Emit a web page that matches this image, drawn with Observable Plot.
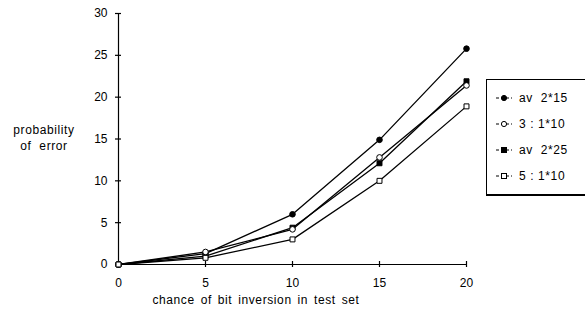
<!DOCTYPE html>
<html><head><meta charset="utf-8">
<script src="https://cdn.jsdelivr.net/npm/d3@7"></script>
<script src="https://cdn.jsdelivr.net/npm/@observablehq/plot@0.6"></script>
<style>
html,body{margin:0;padding:0;background:#fff;overflow:hidden;}
#wrap{position:relative;width:585px;height:312px;font-family:"Liberation Sans",Arial,sans-serif;}
#legend{position:absolute;left:486px;top:79px;width:110px;height:114px;border:1px solid #000;box-shadow:0 1px 0 #000;background:#fff;font-size:12px;letter-spacing:0.6px;}
.row{position:absolute;left:8px;height:14px;display:flex;align-items:center;}
.row svg{margin-right:6px;}
</style>
</head><body>
<div id="wrap"></div>
<script>
const xs = [0, 5, 10, 15, 20];
const av215 = [0, 1.3, 6.0, 14.9, 25.8];
const s3_110 = [0, 1.5, 4.2, 12.8, 21.4];
const av225 = [0, 1.0, 4.4, 12.1, 21.9];
const s5_110 = [0, 0.8, 3.0, 10.0, 18.9];
const seriesNames = ["av  2*15", "3 : 1*10", "av  2*25", "5 : 1*10"];
const seriesSymbols = ["circle", "circle", "square", "square"];
const seriesFilled = [true, false, true, false];
const xTicks = [0, 5, 10, 15, 20];
const yTicks = [0, 5, 10, 15, 20, 25, 30];
const xLabel = "chance of bit inversion in test set";
const yLabel = ["probability", "of  error"];

const allSeries = [av215, s3_110, av225, s5_110];
const data = [];
allSeries.forEach((vals, i) => vals.forEach((v, j) => data.push({x: xs[j], y: v, s: seriesNames[i], k: i})));
const drawOrder = [0, 2, 1, 3];

const marks = [
  Plot.ruleY([0], {stroke: "#000", strokeWidth: 1.2}),
  Plot.ruleX([0], {stroke: "#000", strokeWidth: 1.2}),
  Plot.ruleX(xTicks.slice(1), {x: d => d, y1: 0, y2: 0, insetTop: -3, insetBottom: -3, stroke: "#000", strokeWidth: 1.2}),
  Plot.ruleY(yTicks.slice(1), {y: d => d, x1: 0, x2: 0, insetLeft: -3, insetRight: -3, stroke: "#000", strokeWidth: 1.2}),
  Plot.axisX({ticks: xTicks, tickSize: 0, tickPadding: 14, fontSize: 12, fill: "#000", label: null}),
  Plot.axisY({ticks: yTicks, tickSize: 0, tickPadding: 11, fontSize: 12, fill: "#000", label: null}),
  Plot.line(data, {x: "x", y: "y", z: "s", stroke: "#000", strokeWidth: 1.3})
];
drawOrder.forEach(i => {
  const d = data.filter(r => r.k === i);
  if (seriesSymbols[i] === "circle") {
    marks.push(Plot.dot(d, {x: "x", y: "y", r: 2.8, fill: seriesFilled[i] ? "#000" : "#fff", stroke: "#000", strokeWidth: 1}));
  } else {
    marks.push(Plot.dot(d, {x: "x", y: "y", symbol: "square", r: 2.8, fill: seriesFilled[i] ? "#000" : "#fff", stroke: "#000", strokeWidth: 1}));
  }
});

const chart = Plot.plot({
  width: 585, height: 312,
  marginLeft: 118, marginRight: 119, marginTop: 13, marginBottom: 48,
  x: {domain: [0, 20]},
  y: {domain: [0, 30]},
  style: {fontFamily: "'Liberation Sans', Arial, sans-serif", fontSize: "12px", background: "#fff", color: "#000", overflow: "visible"},
  marks
});
const wrap = document.getElementById("wrap");
wrap.appendChild(chart);

const svg = d3.select(chart);
svg.append("text").attr("x", 256).attr("y", 304).attr("text-anchor", "middle")
  .attr("font-size", 12).attr("letter-spacing", "0.6px").attr("word-spacing", "2px").attr("fill", "#000").text(xLabel);
yLabel.forEach((t, i) => svg.append("text").attr("x", 44).attr("y", 134 + i * 16).attr("text-anchor", "middle")
  .attr("font-size", 12).attr("letter-spacing", "0.6px").attr("fill", "#000").text(t));

const leg = document.createElement("div");
leg.id = "legend";
seriesNames.forEach((n, i) => {
  const row = document.createElement("div");
  row.className = "row";
  row.style.top = (11 + i * 26) + "px";
  const ns = "http://www.w3.org/2000/svg";
  const s = document.createElementNS(ns, "svg");
  s.setAttribute("width", 18); s.setAttribute("height", 10);
  const ln = document.createElementNS(ns, "line");
  ln.setAttribute("x1", 1); ln.setAttribute("x2", 17); ln.setAttribute("y1", 5); ln.setAttribute("y2", 5);
  ln.setAttribute("stroke", "#000"); ln.setAttribute("stroke-width", 1); ln.setAttribute("stroke-dasharray", "3,2");
  s.appendChild(ln);
  let m;
  if (seriesSymbols[i] === "circle") {
    m = document.createElementNS(ns, "circle");
    m.setAttribute("cx", 9); m.setAttribute("cy", 5); m.setAttribute("r", 2.6);
  } else {
    m = document.createElementNS(ns, "rect");
    m.setAttribute("x", 6.5); m.setAttribute("y", 2.5); m.setAttribute("width", 5); m.setAttribute("height", 5);
  }
  m.setAttribute("fill", seriesFilled[i] ? "#000" : "#fff"); m.setAttribute("stroke", "#000");
  s.appendChild(m);
  row.appendChild(s);
  const sp = document.createElement("span");
  sp.textContent = n; sp.style.whiteSpace = "pre";
  row.appendChild(sp);
  leg.appendChild(row);
});
wrap.appendChild(leg);
</script>
</body></html>
